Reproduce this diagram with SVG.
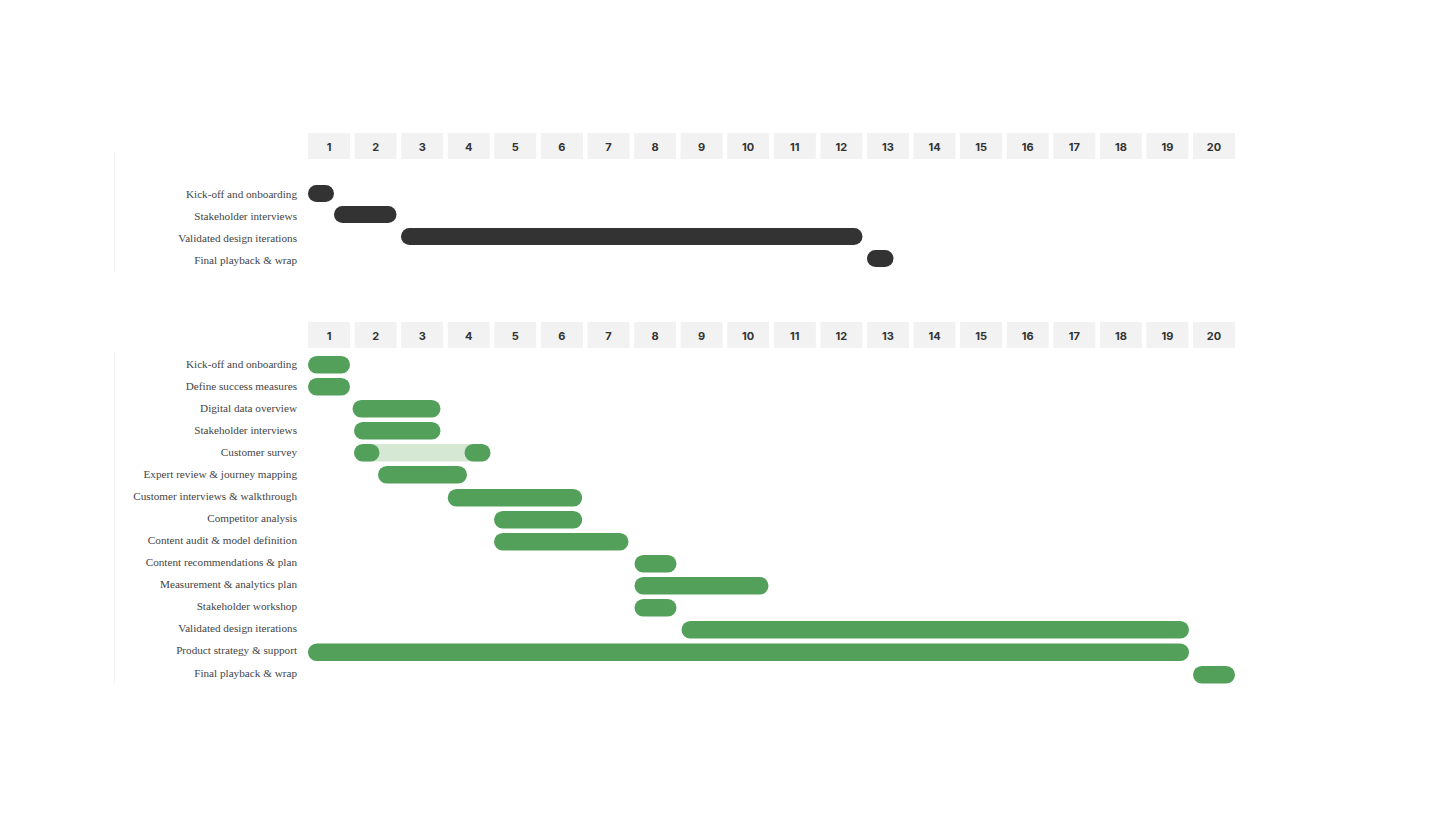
<svg xmlns="http://www.w3.org/2000/svg" width="1440" height="820" viewBox="0 0 1440 820">
<style>
.hc{fill:#f2f2f2}
.hn{font-family:Inter,"Open Sans",sans-serif;font-weight:700;font-size:11px;fill:#333;text-anchor:middle}
.lb{font-family:"Liberation Serif",serif;font-size:11.2px;fill:#444;text-anchor:end}
.dk{fill:#333}
.gr{fill:#52a05a}
.lg{fill:#d4e8d4}
.ax{stroke:#eef2f4;stroke-width:1}
</style>
<defs>
<g id="hdr">
<rect class="hc" x="308" y="0" width="42" height="26"/><text class="hn" x="329" y="17.5">1</text>
<rect class="hc" x="354.6" y="0" width="42" height="26"/><text class="hn" x="375.6" y="17.5">2</text>
<rect class="hc" x="401.2" y="0" width="42" height="26"/><text class="hn" x="422.2" y="17.5">3</text>
<rect class="hc" x="447.7" y="0" width="42" height="26"/><text class="hn" x="468.7" y="17.5">4</text>
<rect class="hc" x="494.3" y="0" width="42" height="26"/><text class="hn" x="515.3" y="17.5">5</text>
<rect class="hc" x="540.9" y="0" width="42" height="26"/><text class="hn" x="561.9" y="17.5">6</text>
<rect class="hc" x="587.5" y="0" width="42" height="26"/><text class="hn" x="608.5" y="17.5">7</text>
<rect class="hc" x="634.1" y="0" width="42" height="26"/><text class="hn" x="655.1" y="17.5">8</text>
<rect class="hc" x="680.6" y="0" width="42" height="26"/><text class="hn" x="701.6" y="17.5">9</text>
<rect class="hc" x="727.2" y="0" width="42" height="26"/><text class="hn" x="748.2" y="17.5">10</text>
<rect class="hc" x="773.8" y="0" width="42" height="26"/><text class="hn" x="794.8" y="17.5">11</text>
<rect class="hc" x="820.4" y="0" width="42" height="26"/><text class="hn" x="841.4" y="17.5">12</text>
<rect class="hc" x="867" y="0" width="42" height="26"/><text class="hn" x="888" y="17.5">13</text>
<rect class="hc" x="913.5" y="0" width="42" height="26"/><text class="hn" x="934.5" y="17.5">14</text>
<rect class="hc" x="960.1" y="0" width="42" height="26"/><text class="hn" x="981.1" y="17.5">15</text>
<rect class="hc" x="1006.7" y="0" width="42" height="26"/><text class="hn" x="1027.7" y="17.5">16</text>
<rect class="hc" x="1053.3" y="0" width="42" height="26"/><text class="hn" x="1074.3" y="17.5">17</text>
<rect class="hc" x="1099.9" y="0" width="42" height="26"/><text class="hn" x="1120.9" y="17.5">18</text>
<rect class="hc" x="1146.4" y="0" width="42" height="26"/><text class="hn" x="1167.4" y="17.5">19</text>
<rect class="hc" x="1193" y="0" width="42" height="26"/><text class="hn" x="1214" y="17.5">20</text>
</g>
</defs>
<rect width="1440" height="820" fill="#fff"/>

<g id="chart-top">
<use href="#hdr" y="133"/>
<line class="ax" x1="114.5" y1="152" x2="114.5" y2="273"/>
<g id="t1"><text class="lb" x="297" y="197.5">Kick-off and onboarding</text><rect class="dk" x="308" y="185" width="26" height="17" rx="8.5"/></g>
<g id="t2"><text class="lb" x="297" y="219.5">Stakeholder interviews</text><rect class="dk" x="334" y="206" width="62.5" height="17" rx="8.5"/></g>
<g id="t3"><text class="lb" x="297" y="241.5">Validated design iterations</text><rect class="dk" x="401" y="228" width="461.5" height="17" rx="8.5"/></g>
<g id="t4"><text class="lb" x="297" y="263.5">Final playback &amp; wrap</text><rect class="dk" x="867" y="250" width="26.5" height="17" rx="8.5"/></g>
</g>

<g id="chart-bottom">
<use href="#hdr" y="322"/>
<line class="ax" x1="114.5" y1="352" x2="114.5" y2="683"/>
<g id="b1"><text class="lb" x="297" y="367.5">Kick-off and onboarding</text><rect class="gr" x="308" y="356" width="42" height="17.5" rx="8.75"/></g>
<g id="b2"><text class="lb" x="297" y="389.5">Define success measures</text><rect class="gr" x="308" y="378" width="42" height="17.5" rx="8.75"/></g>
<g id="b3"><text class="lb" x="297" y="411.5">Digital data overview</text><rect class="gr" x="352.5" y="400" width="88" height="17.5" rx="8.75"/></g>
<g id="b4"><text class="lb" x="297" y="433.5">Stakeholder interviews</text><rect class="gr" x="354" y="422" width="86.5" height="17.5" rx="8.75"/></g>
<g id="b5"><text class="lb" x="297" y="455.5">Customer survey</text><rect class="lg" x="354" y="444" width="136.5" height="17.5" rx="8.75"/><rect class="gr" x="354" y="444" width="25.5" height="17.5" rx="8.75"/><rect class="gr" x="464.5" y="444" width="26" height="17.5" rx="8.75"/></g>
<g id="b6"><text class="lb" x="297" y="477.5">Expert review &amp; journey mapping</text><rect class="gr" x="378" y="466" width="89" height="17.5" rx="8.75"/></g>
<g id="b7"><text class="lb" x="297" y="499.5">Customer interviews &amp; walkthrough</text><rect class="gr" x="447.7" y="489" width="134.5" height="17.5" rx="8.75"/></g>
<g id="b8"><text class="lb" x="297" y="521.5">Competitor analysis</text><rect class="gr" x="494" y="511" width="88.2" height="17.5" rx="8.75"/></g>
<g id="b9"><text class="lb" x="297" y="543.5">Content audit &amp; model definition</text><rect class="gr" x="494" y="533" width="134.5" height="17.5" rx="8.75"/></g>
<g id="b10"><text class="lb" x="297" y="566">Content recommendations &amp; plan</text><rect class="gr" x="634.5" y="555" width="42" height="17.5" rx="8.75"/></g>
<g id="b11"><text class="lb" x="297" y="588">Measurement &amp; analytics plan</text><rect class="gr" x="634.5" y="577" width="134" height="17.5" rx="8.75"/></g>
<g id="b12"><text class="lb" x="297" y="610">Stakeholder workshop</text><rect class="gr" x="634.5" y="599" width="42" height="17.5" rx="8.75"/></g>
<g id="b13"><text class="lb" x="297" y="632">Validated design iterations</text><rect class="gr" x="681.5" y="621" width="507.5" height="17.5" rx="8.75"/></g>
<g id="b14"><text class="lb" x="297" y="654">Product strategy &amp; support</text><rect class="gr" x="308" y="643.5" width="881" height="17.5" rx="8.75"/></g>
<g id="b15"><text class="lb" x="297" y="676.5">Final playback &amp; wrap</text><rect class="gr" x="1193" y="666" width="42" height="17.5" rx="8.75"/></g>
</g>
<g id="connectors"/>
</svg>
